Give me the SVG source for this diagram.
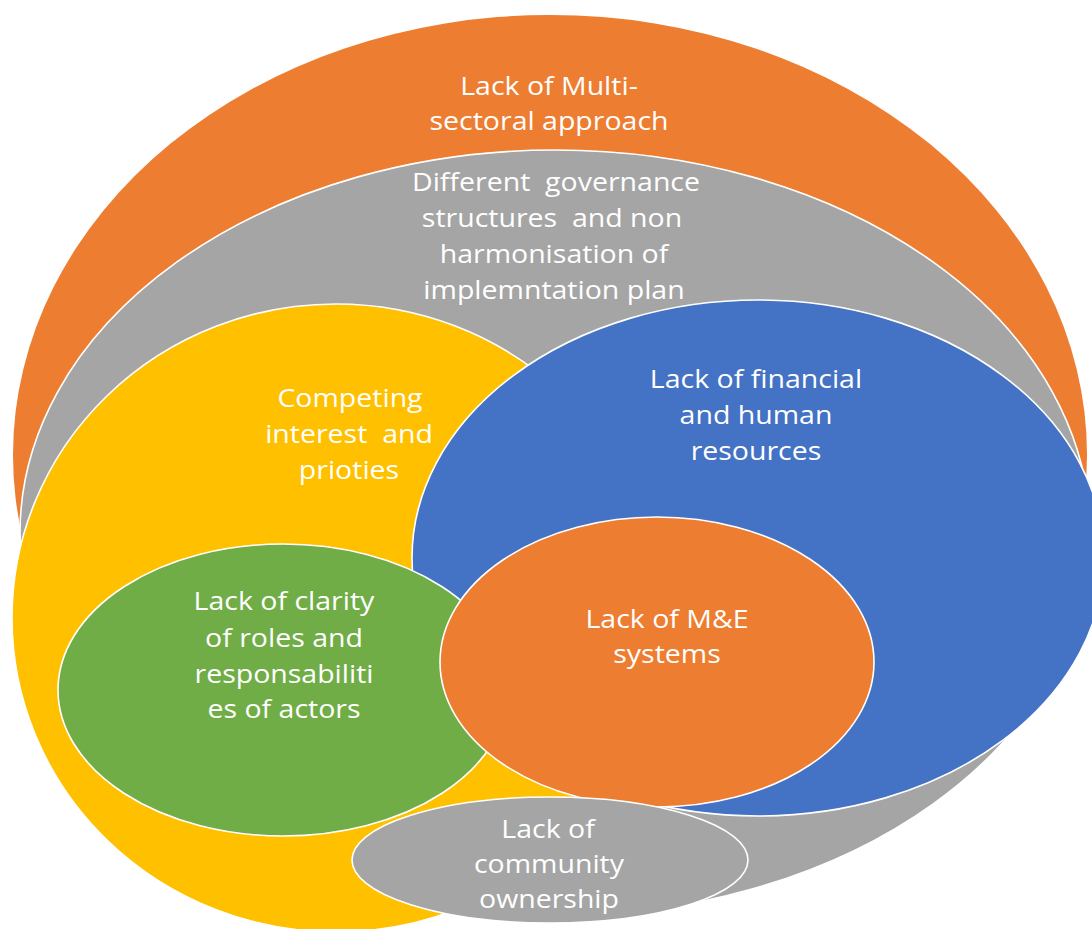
<svg xmlns="http://www.w3.org/2000/svg" width="1092" height="929" viewBox="0 0 1092 929">
<style>
.sh{stroke:#ffffff;stroke-width:1.6}
.t{font-family:"Open Sans","Liberation Sans",sans-serif;font-size:25px;fill:#ffffff;text-anchor:middle}
</style>
<rect width="1092" height="929" fill="#ffffff"/>
<g id="multisectoral">
<ellipse cx="550" cy="455" rx="537" ry="440" fill="#ED7D31"/>
<text class="t" transform="translate(549 95) scale(1.14 1)">Lack of Multi-</text>
<text class="t" transform="translate(549 130) scale(1.14 1)">sectoral approach</text>
</g>
<g id="governance">
<ellipse class="sh" cx="555" cy="533" rx="535" ry="383" fill="#A5A5A5"/>
<text class="t" transform="translate(556 191) scale(1.14 1)" xml:space="preserve">Different  governance</text>
<text class="t" transform="translate(552 227) scale(1.14 1)" xml:space="preserve">structures  and non</text>
<text class="t" transform="translate(554 263) scale(1.14 1)">harmonisation of</text>
<text class="t" transform="translate(554 299) scale(1.14 1)">implemntation plan</text>
</g>
<g id="competing">
<ellipse class="sh" cx="336" cy="618" rx="324" ry="314" fill="#FFC000"/>
<text class="t" transform="translate(350 407) scale(1.14 1)">Competing</text>
<text class="t" transform="translate(349 443) scale(1.14 1)" xml:space="preserve">interest  and</text>
<text class="t" transform="translate(349 479) scale(1.14 1)">prioties</text>
</g>
<g id="resources">
<ellipse class="sh" cx="758" cy="558" rx="346" ry="258" fill="#4472C4"/>
<text class="t" transform="translate(756 388) scale(1.14 1)">Lack of financial</text>
<text class="t" transform="translate(756 424) scale(1.14 1)">and human</text>
<text class="t" transform="translate(756 460) scale(1.14 1)">resources</text>
</g>
<g id="roles">
<ellipse class="sh" cx="283" cy="690" rx="225" ry="146" fill="#70AD47"/>
<text class="t" transform="translate(284 610) scale(1.14 1)">Lack of clarity</text>
<text class="t" transform="translate(284 647) scale(1.14 1)">of roles and</text>
<text class="t" transform="translate(284 683) scale(1.14 1)">responsabiliti</text>
<text class="t" transform="translate(284 718) scale(1.14 1)">es of actors</text>
</g>
<g id="me-systems">
<ellipse class="sh" cx="657" cy="662" rx="217" ry="145" fill="#ED7D31"/>
<text class="t" transform="translate(667 628) scale(1.14 1)">Lack of M&amp;E</text>
<text class="t" transform="translate(667 663) scale(1.14 1)">systems</text>
</g>
<g id="community">
<ellipse class="sh" cx="550" cy="860" rx="198" ry="63" fill="#A5A5A5"/>
<text class="t" transform="translate(548 838) scale(1.14 1)">Lack of</text>
<text class="t" transform="translate(549 873) scale(1.14 1)">community</text>
<text class="t" transform="translate(549 908) scale(1.14 1)">ownership</text>
</g>
<g id="connectors"/>
</svg>
